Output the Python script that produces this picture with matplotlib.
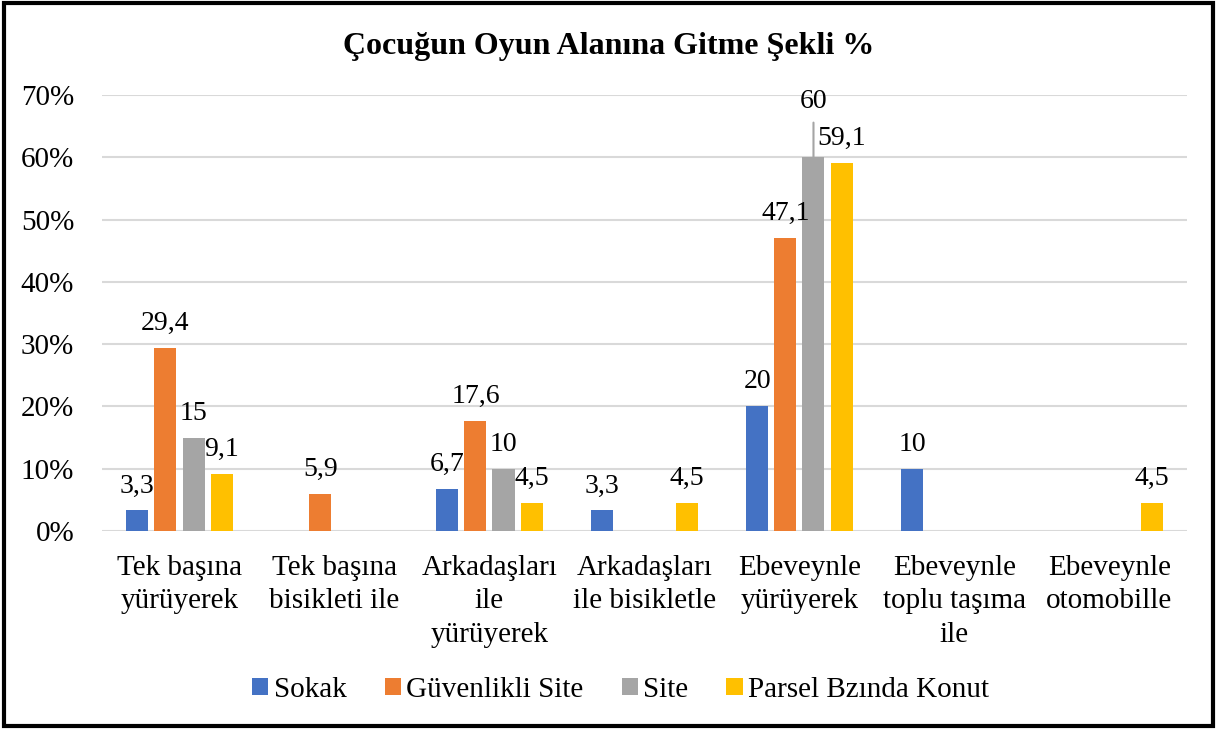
import numpy as np
import matplotlib
matplotlib.use("Agg")
import matplotlib.pyplot as plt
from matplotlib.patches import Rectangle

plt.rcParams['font.family'] = ['Liberation Serif', 'DejaVu Serif']

categories = ["Tek başına\nyürüyerek", "Tek başına\nbisikleti ile", "Arkadaşları\nile\nyürüyerek",
              "Arkadaşları\nile bisikletle", "Ebeveynle\nyürüyerek", "Ebeveynle\ntoplu taşıma\nile",
              "Ebeveynle\notomobille"]
series_names = ["Sokak", "Güvenlikli Site", "Site", "Parsel Bzında Konut"]
sokak = [3.3, np.nan, 6.7, 3.3, 20, 10, np.nan]
guvenlikli = [29.4, 5.9, 17.6, np.nan, 47.1, np.nan, np.nan]
site = [15, np.nan, 10, np.nan, 60, np.nan, np.nan]
parsel = [9.1, np.nan, 4.5, 4.5, 59.1, np.nan, 4.5]
colors = ["#4472C4", "#ED7D31", "#A5A5A5", "#FFC000"]

fig = plt.figure(figsize=(12.17, 7.29), dpi=100)
ax = fig.add_axes([0.0838, 0.2716, 0.8915, 0.5981])

x = np.arange(len(categories))
pitch = 0.181
width = 0.142
all_series = [sokak, guvenlikli, site, parsel]
for k, vals in enumerate(all_series):
    pos = x + (k - 1.5) * pitch
    ax.bar(pos, vals, width, color=colors[k], label=series_names[k], zorder=3)
    for p, v in zip(pos, vals):
        if np.isnan(v):
            continue
        txt = ("%g" % v).replace(".", ",")
        if k == 2 and v == 60:
            # label moved up, with a leader line
            ax.annotate(txt, (p, v), xytext=(0, 43), textcoords="offset pixels",
                        ha="center", va="bottom", fontsize=20,
                        arrowprops=dict(arrowstyle="-", color="#A5A5A5", lw=1.5,
                                        shrinkA=4, shrinkB=0))
        else:
            ax.annotate(txt, (p, v), xytext=(0, 12), textcoords="offset pixels",
                        ha="center", va="bottom", fontsize=20, zorder=4)

ax.set_xlim(-0.5, len(categories) - 0.5)
ax.set_ylim(0, 70)
ax.set_yticks(np.arange(0, 71, 10))
ax.set_yticklabels(["%d%%" % t for t in range(0, 71, 10)], fontsize=21)
ax.set_xticks(x)
ax.set_xticklabels(categories, fontsize=21, linespacing=1.38)
ax.tick_params(axis="both", length=0)
ax.tick_params(axis="x", pad=17)
ax.tick_params(axis="y", pad=20)
ax.grid(axis="y", color="#D9D9D9", lw=1.5, zorder=0)
for s in ax.spines.values():
    s.set_visible(False)

fig.text(0.5, 0.936, "Çocuğun Oyun Alanına Gitme Şekli %", ha="center", va="center",
         fontsize=23, fontweight="bold")

fig.legend(loc="center", bbox_to_anchor=(0.51, 0.054), ncol=4, frameon=False, fontsize=21,
           handlelength=0.55, handleheight=0.55, handletextpad=0.2, columnspacing=1.3)

fig.patches.append(Rectangle((0.003, 0.004), 0.994, 0.992, transform=fig.transFigure,
                             fill=False, edgecolor="black", lw=3))

fig.savefig("out.png", dpi=100)
